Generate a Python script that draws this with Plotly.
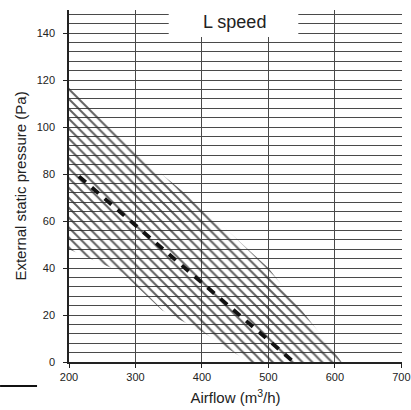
import plotly.graph_objects as go

# ---- data ----
x_ticks = [200, 300, 400, 500, 600, 700]
y_ticks = [0, 20, 40, 60, 80, 100, 120, 140]

band_upper_x = [200, 300, 400, 500, 600, 610]
band_upper_y = [117, 89, 66, 40, 4, 0]
band_lower_x = [200, 280, 340, 400, 470]
band_lower_y = [48, 38, 22, 13, 0]

center_x = [215, 538]
center_y = [79, 0]

title_text = "L speed"
x_title = "Airflow (m<sup>3</sup>/h)"
y_title = "External static pressure (Pa)"

# ---- figure ----
poly_x = band_upper_x + band_lower_x[::-1] + [band_upper_x[0]]
poly_y = band_upper_y + band_lower_y[::-1] + [band_upper_y[0]]

fig = go.Figure()
fig.add_trace(go.Scatter(
    x=poly_x, y=poly_y, mode="lines", fill="toself",
    line=dict(width=0, color="rgba(0,0,0,0)"),
    fillcolor="rgba(0,0,0,0)",
    fillpattern=dict(shape="\\", size=7, solidity=0.28, fgcolor="#2a2a2a",
                     fgopacity=0.75, fillmode="replace"),
    hoverinfo="skip", showlegend=False,
))
fig.add_trace(go.Scatter(
    x=center_x, y=center_y, mode="lines",
    line=dict(color="#111", width=3.8, dash="9px,8px"),
    hoverinfo="skip", showlegend=False,
))

fig.update_layout(
    width=411, height=410,
    margin=dict(l=69, r=9, t=10, b=48, autoexpand=False),
    paper_bgcolor="white", plot_bgcolor="white",
    font=dict(family="Liberation Sans, Arial, sans-serif", color="#222"),
    showlegend=False,
)
fig.update_xaxes(
    range=[200, 701], tickvals=x_ticks, ticktext=[str(v) for v in x_ticks],
    showgrid=True, gridcolor="#4a4a4a", gridwidth=1,
    showline=True, linecolor="#222", linewidth=1.5,
    ticks="outside", ticklen=4, tickcolor="#222", automargin=False,
    tickfont=dict(size=11, color="#222"), zeroline=False,
    title=dict(text=x_title, font=dict(size=15, color="#222"), standoff=11),
)
fig.update_yaxes(
    range=[0, 149.8], tickvals=y_ticks, ticktext=[str(v) for v in y_ticks],
    showgrid=True, gridcolor="#4a4a4a", gridwidth=1,
    minor=dict(dtick=4, tick0=0, showgrid=True, gridcolor="#4a4a4a", gridwidth=1),
    showline=True, linecolor="#222", linewidth=1.5,
    ticks="outside", ticklen=4, tickcolor="#222", automargin=False,
    ticklabelstandoff=6,
    tickfont=dict(size=11, color="#222"), zeroline=False,
    title=dict(text=y_title, font=dict(size=15, color="#222"), standoff=6),
)

# white box behind the label
fig.add_shape(type="rect", xref="x", yref="y", x0=350, x1=545, y0=138.3, y1=149.8,
              fillcolor="white", line=dict(width=0), layer="above")
fig.add_annotation(x=449, y=144.6, xref="x", yref="y", text=title_text,
                   showarrow=False, font=dict(size=18, color="#222"))
# stray scan stroke at bottom left
fig.add_shape(type="line", xref="paper", yref="paper", x0=-0.207, x1=-0.096,
              y0=-0.068, y1=-0.068, line=dict(color="#111", width=2))

fig.write_html("out.html", config={"displayModeBar": False},
               post_script="document.body.style.margin='0';")
